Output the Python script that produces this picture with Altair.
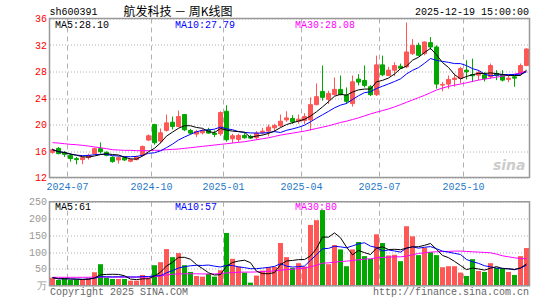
import altair as alt
import pandas as pd
import numpy as np

# ---------------- data ----------------
opens = [15.8, 16.4, 15.75, 15.35, 14.85, 14.7, 15.0, 15.6, 16.35, 15.8,
         15.05, 14.65, 15.0, 14.45, 14.7, 15.35, 17.65, 20.0, 17.5, 19.1,
         20.35, 19.7, 21.5, 19.1, 18.55, 18.75, 19.2, 18.7, 18.6, 22.0,
         17.85, 17.75, 18.35, 18.2, 18.0, 18.8, 19.0, 19.5, 19.8, 20.7,
         20.9, 20.5, 20.6, 20.7, 23.0, 25.0, 23.8, 24.5, 25.3, 24.45,
         23.15, 26.85, 26.65, 25.7, 24.5, 29.0, 27.4, 28.2, 28.8, 28.7,
         30.7, 31.95, 30.7, 32.35, 31.7, 25.95, 26.1, 26.8, 26.95, 28.2,
         27.55, 27.45, 27.5, 27.2, 27.7, 27.5, 26.8, 27.2, 27.7, 28.9]
highs = [16.4, 16.6, 16.0, 15.6, 15.1, 15.2, 15.6, 16.5, 17.3, 15.95,
         15.2, 15.2, 15.2, 14.85, 15.3, 16.8, 18.5, 20.1, 19.4, 21.5,
         21.2, 22.1, 21.6, 19.35, 19.2, 19.3, 19.5, 19.1, 22.0, 22.9,
         18.6, 18.6, 18.7, 18.45, 19.0, 19.5, 20.0, 20.1, 21.5, 22.0,
         21.4, 21.5, 21.7, 24.1, 26.2, 28.9, 25.1, 27.1, 27.4, 25.6,
         27.4, 27.6, 28.9, 25.95, 30.4, 30.4, 28.7, 29.4, 29.2, 35.4,
         32.9, 32.35, 32.55, 33.2, 31.95, 26.4, 27.4, 27.7, 28.7, 29.7,
         29.95, 28.2, 27.9, 29.2, 28.2, 28.2, 27.4, 27.4, 29.2, 31.5]
lows = [15.6, 15.5, 15.1, 14.4, 14.0, 14.0, 14.7, 15.5, 15.6, 15.2,
        14.25, 14.1, 14.5, 14.3, 14.6, 15.2, 17.5, 16.95, 17.1, 18.95,
        19.25, 19.6, 19.0, 18.5, 18.1, 18.5, 18.6, 18.1, 18.3, 17.4,
        17.2, 17.35, 17.85, 17.8, 17.7, 18.5, 18.2, 18.9, 19.6, 20.4,
        20.1, 20.1, 20.1, 19.1, 22.9, 23.6, 23.1, 24.4, 24.4, 23.1,
        22.7, 25.9, 25.6, 24.3, 24.3, 27.3, 27.3, 27.3, 28.4, 28.5,
        30.5, 30.3, 30.45, 31.3, 25.4, 25.0, 25.4, 25.7, 26.2, 26.8,
        26.4, 26.7, 26.5, 26.9, 26.7, 26.5, 26.4, 25.7, 27.5, 28.8]
closes = [16.2, 15.6, 15.5, 14.85, 14.7, 15.0, 15.35, 16.35, 15.9, 15.35,
          14.4, 15.0, 14.65, 14.7, 15.1, 16.7, 18.3, 17.25, 18.75, 20.25,
          19.7, 21.2, 19.2, 18.7, 18.95, 19.05, 18.7, 18.5, 21.8, 17.7,
          18.3, 18.35, 18.0, 17.95, 18.7, 19.0, 19.6, 19.85, 20.5, 21.0,
          20.4, 20.8, 21.2, 23.0, 24.2, 24.1, 24.7, 25.3, 24.5, 23.5,
          26.45, 26.4, 25.9, 24.5, 29.0, 27.5, 28.2, 28.9, 28.5, 30.95,
          31.95, 30.45, 32.45, 31.7, 26.1, 26.05, 26.8, 27.0, 28.45, 27.95,
          27.35, 27.85, 26.9, 28.9, 27.4, 26.7, 27.0, 27.0, 28.9, 31.4]
volumes = [24, 17, 22, 17, 18, 18, 22, 40, 64, 24,
           20, 20, 20, 15, 15, 32, 22, 61, 70, 109,
           85, 97, 61, 41, 29, 27, 35, 27, 46, 157,
           80, 57, 39, 9, 30, 45, 55, 56, 127, 85,
           53, 67, 57, 181, 195, 225, 64, 121, 108, 58,
           108, 130, 88, 80, 153, 127, 90, 92, 73, 177,
           147, 91, 113, 100, 91, 55, 58, 58, 39, 29,
           79, 44, 41, 67, 53, 50, 41, 32, 88, 112]
price_ma30 = [17.26, 17.2, 17.1, 17.0, 16.95, 16.85, 16.75, 16.6, 16.5, 16.35,
              16.2, 16.15, 16.1, 16.1, 16.05, 16.05, 16.05, 16.1, 16.1, 16.2,
              16.25, 16.3, 16.4, 16.5, 16.6, 16.7, 16.8, 16.9, 17.0, 17.1,
              17.2, 17.3, 17.4, 17.55, 17.7, 17.85, 18.0, 18.2, 18.4, 18.55,
              18.7, 18.85, 19.0, 19.2, 19.4, 19.6, 19.8, 20.05, 20.3, 20.5,
              20.75, 21.0, 21.3, 21.6, 21.85, 22.1, 22.35, 22.65, 23.0, 23.35,
              23.7, 24.05, 24.4, 24.8, 25.2, 25.5, 25.75, 25.95, 26.1, 26.3,
              26.5, 26.7, 26.85, 27.0, 27.15, 27.3, 27.45, 27.6, 27.8, 28.08]
vol_ma30 = [25, 25, 25, 25, 25, 25, 25, 25.5, 25.5, 25.5,
            25.5, 25.5, 25.5, 25.5, 25.5, 25.5, 25.5, 27, 29, 32,
            34, 35, 35.5, 35.5, 35.5, 35, 35, 35, 36, 38,
            39, 40, 40.5, 40.5, 41, 42, 43, 44, 46, 48,
            49, 51, 52, 56, 61, 67, 68, 70, 72, 73,
            75, 77, 79, 80, 83, 84, 85, 86, 86, 88,
            92, 96, 98, 100, 101, 102, 102, 103, 103, 102,
            101, 100, 99, 98, 94, 89, 86, 83, 81, 80]

# week-ending trading dates (holiday weeks end on their last trading day)
holiday_week_ends = {"2024-10-04": "2024-09-30", "2025-01-31": "2025-01-27",
                     "2025-04-04": "2025-04-03", "2025-10-03": "2025-09-30"}
week_dates = [holiday_week_ends.get(d.strftime("%Y-%m-%d"), d.strftime("%Y-%m-%d"))
              for d in pd.date_range("2024-06-14", "2025-12-19", freq="W-FRI")]

symbol_text = "sh600391"
title_text = "航发科技 － 周K线图"
time_text = "2025-12-19 15:00:00"
price_ma_texts = ["MA5:28.10", "MA10:27.79", "MA30:28.08"]
vol_ma_texts = ["MA5:61", "MA10:57", "MA30:80"]
copyright_text = "Copyright 2025 SINA.COM"
url_text = "http://finance.sina.com.cn"
watermark_text = "sina"
price_ticks = [12, 16, 20, 24, 28, 32, 36]
vol_ticks = [0, 50, 100, 150, 200, 250]
vol_unit = "万"

# ---------------- frame build ----------------
df = pd.DataFrame({
    "k": np.arange(len(closes)), "date": week_dates,
    "open": opens, "high": highs, "low": lows, "close": closes,
    "vol": volumes, "ma30": price_ma30, "vma30": vol_ma30,
})
df["xc"] = df["k"] + 0.5
df["dir"] = np.where(df["close"] >= df["open"], "up", "down")
df["ma5"] = df["close"].rolling(5, min_periods=1).mean()
df["ma10"] = df["close"].rolling(10, min_periods=1).mean()
df["vma5"] = df["vol"].rolling(5, min_periods=1).mean()
df["vma10"] = df["vol"].rolling(10, min_periods=1).mean()

tick_rows = []
dts = pd.to_datetime(df["date"])
for k, d in enumerate(dts):
    if d.month in (1, 4, 7, 10) and (k == 0 or dts[k - 1].month != d.month):
        tick_rows.append({"pos": k, "label": d.strftime("%Y-%m")})
ticks = pd.DataFrame(tick_rows)

W = 480
TOP_H = 159
VOL_T, VOL_B = 183.2, 267.2
MONO = "Liberation Mono"
RED, GREEN = "#ff5656", "#00a800"
GRID = "#b0b0b0"

xs = alt.Scale(domain=[0, len(closes)], nice=False, zero=False, padding=0)
ps = alt.Scale(domain=[12, 36], range=[TOP_H, 0], nice=False, zero=False)
vs = alt.Scale(domain=[0, 250], range=[VOL_B, VOL_T], nice=False)
cscale = alt.Scale(domain=["up", "down"], range=[RED, GREEN])

p_axis = alt.Axis(values=price_ticks, orient="left", labelColor="#ff0000", labelFont=MONO,
                  labelFontSize=10, ticks=False, tickSize=0, domain=False, grid=True,
                  gridColor=GRID, gridDash=[1, 2], title=None, labelPadding=3)
v_axis = alt.Axis(values=vol_ticks, orient="left", labelColor="#999999", labelFont=MONO,
                  labelFontSize=10, ticks=False, tickSize=0, domain=False, grid=True,
                  gridColor=GRID, gridDash=[1, 2], title=None, labelPadding=3,
                  labelExpr=f"datum.value == 0 ? '{vol_unit}' : datum.label")

base = alt.Chart(df)
X = alt.X("xc:Q", scale=xs, axis=None)

wick = base.mark_rule(strokeWidth=1).encode(
    x=X, y=alt.Y("low:Q", scale=ps, axis=p_axis), y2="high:Q",
    color=alt.Color("dir:N", scale=cscale, legend=None))
body = base.mark_bar(size=4, strokeWidth=1).encode(
    x=X, y=alt.Y("open:Q", scale=ps, axis=p_axis), y2="close:Q",
    color=alt.Color("dir:N", scale=cscale, legend=None),
    stroke=alt.Color("dir:N", scale=cscale, legend=None))
ma_lines = [base.mark_line(strokeWidth=1, color=c).encode(
    x=X, y=alt.Y(f"{f}:Q", scale=ps, axis=p_axis))
    for f, c in [("ma30", "#ff00ff"), ("ma10", "#0000ff"), ("ma5", "#000000")]]
price_layer = alt.layer(wick, body, *ma_lines)

vbar = base.mark_bar(size=5).encode(
    x=X, y=alt.Y("vol:Q", scale=vs, axis=v_axis),
    color=alt.Color("dir:N", scale=cscale, legend=None))
vma_lines = [base.mark_line(strokeWidth=1, color=c).encode(
    x=X, y=alt.Y(f"{f}:Q", scale=vs, axis=v_axis))
    for f, c in [("vma30", "#ff00ff"), ("vma10", "#0000ff"), ("vma5", "#000000")]]
vol_layer = alt.layer(vbar, *vma_lines)

tbase = alt.Chart(ticks)
TX = alt.X("pos:Q", scale=xs, axis=None)
mrule_top = tbase.mark_rule(color=GRID, strokeDash=[5, 4]).encode(
    x=TX, y=alt.value(0), y2=alt.value(TOP_H))
mrule_vol = tbase.mark_rule(color=GRID, strokeDash=[5, 4]).encode(
    x=TX, y=alt.value(VOL_T), y2=alt.value(VOL_B))
mlabels = tbase.mark_text(align="center", baseline="middle", font=MONO, fontSize=10,
                          color="#1f78c8").encode(x=TX, y=alt.value(168), text="label:N")


def txt(s, x, y, color="#000000", align="left", size=10, font=MONO, **kw):
    return alt.Chart(pd.DataFrame({"t": [s]})).mark_text(
        align=align, baseline="middle", font=font, fontSize=size, color=color, **kw
    ).encode(x=alt.value(x), y=alt.value(y), text="t:N")


def frame(y0, y1):
    return alt.Chart(pd.DataFrame({"a": [0]})).mark_rect(
        fillOpacity=0, stroke="#999999", strokeWidth=1.5
    ).encode(x=alt.value(0), x2=alt.value(W), y=alt.value(y0), y2=alt.value(y1))


ma_colors = ["#000000", "#0000ff", "#ff00ff"]
ma_x = [5.5, 125.5, 245.5]
annotations = [
    txt(symbol_text, 0, -6.5),
    txt(title_text, 128.5, -6.5, align="center", size=12, font="Noto Sans CJK SC"),
    txt(time_text, 479.5, -6.5, align="right"),
    txt(copyright_text, 0.5, 273.5, color="#666666"),
    txt(url_text, 479.5, 273.5, color="#666666", align="right"),
    txt(watermark_text, 476, 147, color="#cccccc", align="right", size=14,
        font="DejaVu Sans", fontStyle="italic", fontWeight="bold"),
]
annotations += [txt(s, x, 6.2, color=c) for s, x, c in zip(price_ma_texts, ma_x, ma_colors)]
annotations += [txt(s, x, 188, color=c) for s, x, c in zip(vol_ma_texts, ma_x, ma_colors)]

chart = alt.layer(
    mrule_top, mrule_vol, price_layer, vol_layer, mlabels,
    frame(0, TOP_H), frame(VOL_T, VOL_B), *annotations
).resolve_scale(y="independent").properties(
    width=W, height=VOL_B,
    autosize=alt.AutoSizeParams(type="none"),
    padding={"left": 49.5, "top": 18.5, "right": 15.5, "bottom": 14.3},
    background="#ffffff",
).configure_view(strokeWidth=0)

chart.save("out.html", embed_options={"renderer": "svg", "actions": False})
